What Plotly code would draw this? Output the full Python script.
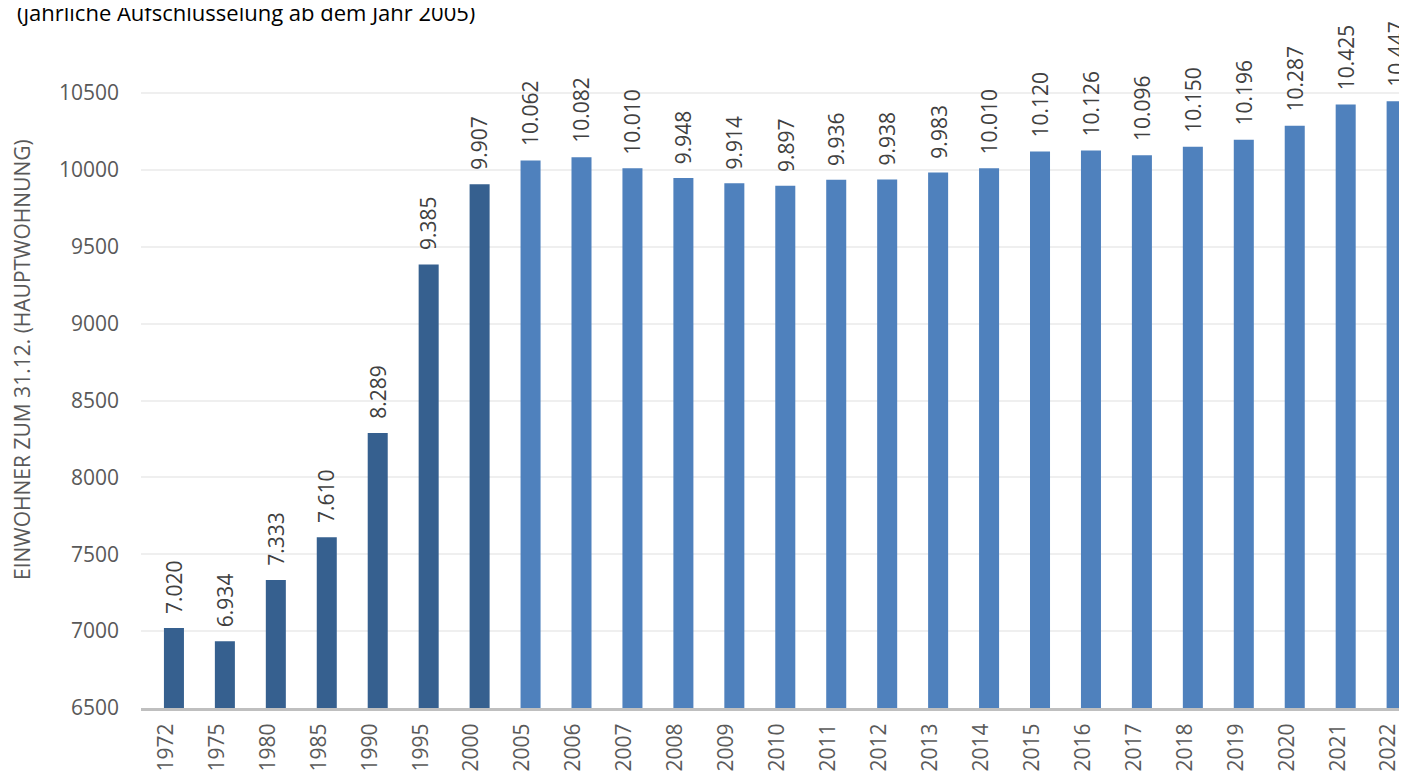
import plotly.graph_objects as go

years = ["1972", "1975", "1980", "1985", "1990", "1995", "2000",
         "2005", "2006", "2007", "2008", "2009", "2010", "2011", "2012",
         "2013", "2014", "2015", "2016", "2017", "2018", "2019", "2020",
         "2021", "2022"]
einwohner = [7020, 6934, 7333, 7610, 8289, 9385, 9907,
             10062, 10082, 10010, 9948, 9914, 9897, 9936, 9938,
             9983, 10010, 10120, 10126, 10096, 10150, 10196, 10287,
             10425, 10447]
dark_years = ["1972", "1975", "1980", "1985", "1990", "1995", "2000"]
y_ticks = [6500, 7000, 7500, 8000, 8500, 9000, 9500, 10000, 10500]

colors = ["#36608f" if y in dark_years else "#4f81bd" for y in years]

W, H = 1399, 765          # page body has an 8px margin
L, T, B = 133, 32, 65
PW, PH = W - L, H - T - B

BAR_W = 0.393
BAR_OFF = -0.04


def de_format(v):
    return f"{v:,}".replace(",", ".")


fig = go.Figure()
fig.add_trace(go.Bar(
    x=years, y=einwohner,
    width=BAR_W, offset=BAR_OFF,
    marker=dict(color=colors, line=dict(width=0)),
    hoverinfo="x+y",
))

for i, v in enumerate(einwohner):
    fig.add_annotation(
        x=i + BAR_OFF + BAR_W / 2, y=v, xref="x", yref="y",
        text=de_format(v),
        textangle=-90,
        showarrow=False,
        xanchor="center", yanchor="bottom",
        yshift=12,
        font=dict(size=21, color="#404040", family="Open Sans"),
    )

fig.add_annotation(
    text="(jährliche Aufschlüsselung ab dem Jahr 2005)",
    xref="paper", yref="paper",
    x=-126 / PW, y=1 + 28 / PH,
    xanchor="left", yanchor="middle",
    showarrow=False,
    font=dict(size=22, color="#000000", family="Open Sans"),
)

fig.add_annotation(
    text="EINWOHNER ZUM 31.12. (HAUPTWOHNUNG)",
    xref="paper", yref="paper",
    x=-119 / PW, y=(700 - 352) / PH,
    xanchor="center", yanchor="middle",
    textangle=-90,
    showarrow=False,
    font=dict(size=21, color="#595959", family="Open Sans"),
)

fig.update_layout(
    width=W, height=H,
    margin=dict(l=L, r=0, t=T, b=B, autoexpand=False),
    plot_bgcolor="white", paper_bgcolor="white",
    showlegend=False,
    font=dict(family="Open Sans", color="#595959"),
    xaxis=dict(
        type="category",
        range=[-0.49, 24.36],
        tickangle=-90,
        tickfont=dict(size=21, color="#595959"),
        ticklabelstandoff=4,
        showgrid=False,
        showline=True, linecolor="#bfbfbf", linewidth=3,
        ticks="",
        automargin=False,
    ),
    yaxis=dict(
        range=[6500, 10845],
        tickvals=y_ticks,
        tickformat="d",
        tickfont=dict(size=21, color="#595959"),
        ticklabelstandoff=21,
        showgrid=True, gridcolor="#efefef", gridwidth=1.5,
        zeroline=False,
        ticks="", ticklen=0,
        automargin=False,
    ),
)

fig.write_html("out.html")
